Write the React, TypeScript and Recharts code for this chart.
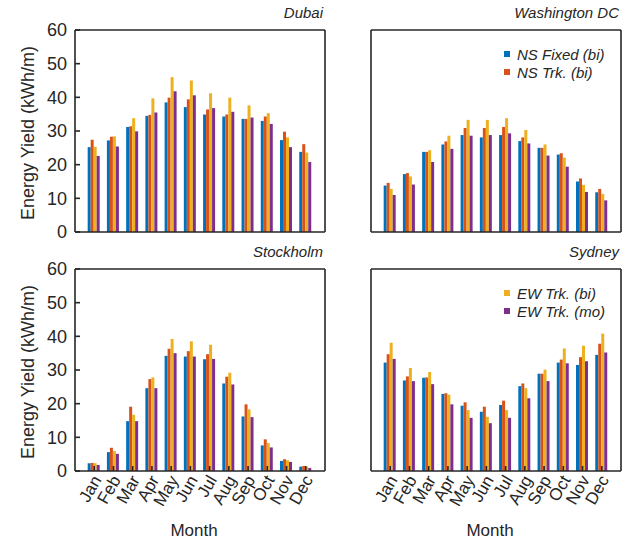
import React from "react";
import { BarChart, Bar, XAxis, YAxis, Legend } from "recharts";

const months = ["Jan", "Feb", "Mar", "Apr", "May", "Jun", "Jul", "Aug", "Sep", "Oct", "Nov", "Dec"];
const yTicks = [0, 10, 20, 30, 40, 50, 60];

// Dubai
const dubaiNsFixed = [25.2, 27.2, 31.2, 34.5, 38.5, 37.1, 34.9, 34.3, 33.6, 33.0, 27.3, 23.8];
const dubaiNsTrk = [27.4, 28.3, 31.4, 34.8, 39.9, 39.4, 36.4, 34.9, 33.6, 34.3, 29.8, 26.1];
const dubaiEwBi = [25.3, 28.4, 33.8, 39.7, 46.0, 45.0, 41.2, 39.9, 37.6, 35.3, 28.1, 23.6];
const dubaiEwMo = [22.6, 25.4, 29.9, 35.5, 41.8, 40.6, 36.8, 35.7, 34.0, 32.1, 25.2, 20.8];

// Washington DC
const dcNsFixed = [13.8, 17.2, 23.8, 26.0, 28.8, 28.1, 28.8, 27.0, 25.0, 23.0, 15.0, 11.8];
const dcNsTrk = [14.6, 17.5, 23.8, 26.9, 30.9, 30.9, 31.2, 28.1, 25.0, 23.4, 15.9, 12.8];
const dcEwBi = [12.8, 16.5, 24.3, 28.6, 33.3, 33.3, 33.8, 30.3, 26.0, 22.1, 14.0, 11.3];
const dcEwMo = [11.0, 14.1, 20.8, 24.7, 28.6, 28.8, 29.3, 26.3, 22.7, 19.4, 11.9, 9.4];

// Stockholm
const stoNsFixed = [2.3, 5.6, 14.8, 24.6, 34.2, 34.0, 33.2, 26.0, 16.2, 7.6, 3.0, 1.3];
const stoNsTrk = [2.4, 6.9, 19.1, 27.3, 36.3, 35.6, 34.7, 28.0, 19.8, 9.4, 3.5, 1.5];
const stoEwBi = [2.3, 5.9, 16.7, 27.8, 39.2, 38.5, 37.5, 29.2, 18.3, 8.3, 3.2, 1.3];
const stoEwMo = [1.8, 5.1, 14.8, 24.6, 35.0, 34.0, 33.3, 25.7, 16.0, 7.0, 2.7, 0.9];

// Sydney
const sydNsFixed = [32.2, 26.9, 27.7, 22.9, 19.4, 17.6, 19.6, 25.2, 28.9, 32.2, 31.5, 34.5];
const sydNsTrk = [34.7, 28.1, 27.8, 23.1, 20.4, 19.1, 20.9, 26.0, 28.9, 33.1, 33.8, 37.8];
const sydEwBi = [38.1, 30.6, 29.4, 22.7, 18.1, 16.1, 18.1, 24.6, 30.1, 36.4, 37.2, 40.8];
const sydEwMo = [33.3, 26.7, 25.8, 19.8, 15.8, 14.2, 15.8, 21.6, 26.7, 32.0, 32.6, 35.2];

const seriesKeys = ["nsFixed", "nsTrk", "ewBi", "ewMo"];
const seriesNames = ["NS Fixed (bi)", "NS Trk. (bi)", "EW Trk. (bi)", "EW Trk. (mo)"];
const seriesColors = ["#0072BD", "#D95319", "#EDB120", "#7E2F8E"];

const ink = "#262626";
const font = "'Liberation Sans', Arial, sans-serif";

function buildRows(a: number[], b: number[], c: number[], d: number[]) {
  return months.map((m, i) => ({ month: m, nsFixed: a[i], nsTrk: b[i], ewBi: c[i], ewMo: d[i] }));
}

const MonthTick = (props: any) => {
  const { x, y, payload } = props;
  const tx = x + 3;
  const ty = y;
  return (
    <text
      x={tx}
      y={ty}
      transform={`rotate(-60, ${tx}, ${ty})`}
      textAnchor="end"
      dominantBaseline="central"
      fontSize={17}
      fill={ink}
      fontFamily={font}
    >
      {payload.value}
    </text>
  );
};

const makeLegend = (keys: string[]) => (props: any) => {
  const items = (props.payload || []).filter((p: any) => keys.includes(p.dataKey));
  return (
    <div style={{ fontFamily: font, fontSize: 15, fontStyle: "italic", color: ink }}>
      {items.map((p: any) => (
        <div key={p.dataKey} style={{ display: "flex", alignItems: "center", height: 18 }}>
          <span style={{ display: "inline-block", width: 6, height: 6, background: p.color, marginRight: 7 }} />
          <span>{p.value}</span>
        </div>
      ))}
    </div>
  );
};

interface PanelProps {
  left: number;
  top: number;
  width: number;
  height: number;
  margin: { top: number; right: number; bottom: number; left: number };
  data: any[];
  title: string;
  leftLabels: boolean;
  monthLabels: boolean;
  legendKeys?: string[];
  legendPos?: { left: number; top: number };
}

function Panel({ left, top, width, height, margin, data, title, leftLabels, monthLabels, legendKeys, legendPos }: PanelProps) {
  const lineStyle = { stroke: ink, strokeWidth: 1.6 };
  return (
    <div style={{ position: "absolute", left, top, width, height }}>
      <BarChart width={width} height={height} data={data} margin={margin} barCategoryGap="16%" barGap={0}>
        <XAxis
          xAxisId="bottom"
          dataKey="month"
          orientation="bottom"
          height={monthLabels ? 70 : 1}
          padding={{ left: 9.6, right: 9.6 }}
          interval={0}
          tickSize={-5}
          tickMargin={11}
          axisLine={lineStyle}
          tickLine={lineStyle}
          tick={monthLabels ? <MonthTick /> : false}
          label={
            monthLabels
              ? { value: "Month", position: "insideBottom", offset: 5, dx: -6, style: { fontSize: 17, fill: ink, fontFamily: font } }
              : undefined
          }
        />
        <XAxis
          xAxisId="top"
          dataKey="month"
          orientation="top"
          height={1}
          padding={{ left: 9.6, right: 9.6 }}
          interval={0}
          tickSize={-5}
          axisLine={lineStyle}
          tickLine={lineStyle}
          tick={false}
        />
        <YAxis
          yAxisId="left"
          orientation="left"
          type="number"
          width={75}
          domain={[0, 60]}
          ticks={yTicks}
          interval={0}
          tickSize={-5}
          tickMargin={13}
          axisLine={lineStyle}
          tickLine={lineStyle}
          tick={leftLabels ? { fontSize: 18, fill: ink, fontFamily: font } : false}
          label={
            leftLabels
              ? {
                  value: "Energy Yield (kWh/m)",
                  angle: -90,
                  position: "insideLeft",
                  offset: 28,
                  dy: 2,
                  style: { textAnchor: "middle", fontSize: 18, fill: ink, fontFamily: font },
                }
              : undefined
          }
        />
        <YAxis
          yAxisId="right"
          orientation="right"
          type="number"
          width={1}
          domain={[0, 60]}
          ticks={yTicks}
          interval={0}
          tickSize={-5}
          axisLine={lineStyle}
          tickLine={lineStyle}
          tick={false}
        />
        {seriesKeys.map((k, i) => (
          <Bar
            key={k}
            xAxisId="bottom"
            yAxisId="left"
            dataKey={k}
            name={seriesNames[i]}
            fill={seriesColors[i]}
            isAnimationActive={false}
          />
        ))}
        {legendKeys && legendPos && (
          <Legend
            layout="vertical"
            align="center"
            verticalAlign="middle"
            content={makeLegend(legendKeys)}
            wrapperStyle={{ left: legendPos.left, top: legendPos.top, width: "auto" }}
          />
        )}
      </BarChart>
      <div
        style={{
          position: "absolute",
          top: margin.top - 24,
          right: margin.right + 3,
          fontFamily: font,
          fontSize: 15,
          fontStyle: "italic",
          color: ink,
          lineHeight: "15px",
        }}
      >
        {title}
      </div>
    </div>
  );
}

export default function App() {
  return (
    <div style={{ position: "absolute", left: 0, top: 0, width: 631, height: 542, background: "#fff", overflow: "hidden" }}>
      <Panel
        left={0}
        top={0}
        width={340}
        height={250}
        margin={{ top: 29, right: 14, bottom: 17, left: 0 }}
        data={buildRows(dubaiNsFixed, dubaiNsTrk, dubaiEwBi, dubaiEwMo)}
        title="Dubai"
        leftLabels
        monthLabels={false}
      />
      <Panel
        left={296}
        top={0}
        width={335}
        height={250}
        margin={{ top: 29, right: 9, bottom: 17, left: 0 }}
        data={buildRows(dcNsFixed, dcNsTrk, dcEwBi, dcEwMo)}
        title="Washington DC"
        leftLabels={false}
        monthLabels={false}
        legendKeys={["nsFixed", "nsTrk"]}
        legendPos={{ left: 208, top: 45 }}
      />
      <Panel
        left={0}
        top={250}
        width={340}
        height={292}
        margin={{ top: 18, right: 14, bottom: 1, left: 0 }}
        data={buildRows(stoNsFixed, stoNsTrk, stoEwBi, stoEwMo)}
        title="Stockholm"
        leftLabels
        monthLabels
      />
      <Panel
        left={296}
        top={250}
        width={335}
        height={292}
        margin={{ top: 18, right: 9, bottom: 1, left: 0 }}
        data={buildRows(sydNsFixed, sydNsTrk, sydEwBi, sydEwMo)}
        title="Sydney"
        leftLabels={false}
        monthLabels
        legendKeys={["ewBi", "ewMo"]}
        legendPos={{ left: 208, top: 34 }}
      />
    </div>
  );
}
